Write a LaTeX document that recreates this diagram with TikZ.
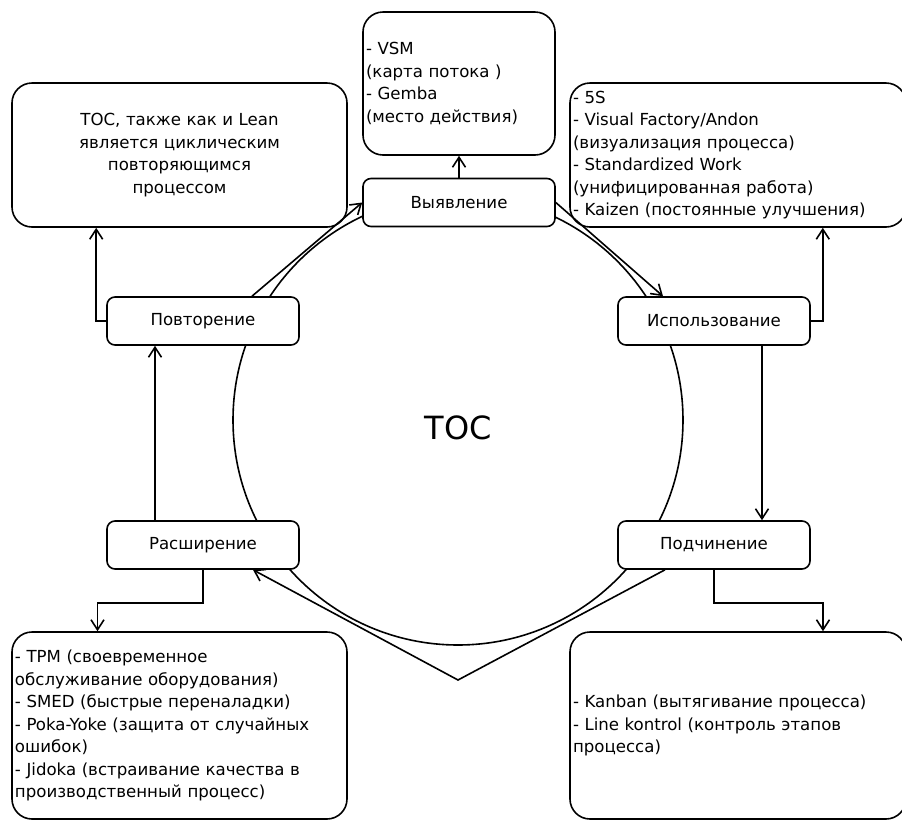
\documentclass[tikz,border=0pt]{standalone}
\usepackage{fontspec}
\setmainfont{DejaVu Sans}
\usetikzlibrary{arrows.meta, positioning, calc}

\begin{document}
\begin{tikzpicture}[x=0.5pt, y=-0.5pt,
    StageBox/.style={draw, fill=white, rounded corners=4pt, line width=0.8pt,
                minimum width=96pt, minimum height=24pt, inner sep=0pt,
                font=\fontsize{8.3pt}{11.25pt}\selectfont},
    NoteBox/.style={draw, fill=white, rounded corners=10pt, line width=0.8pt,
                inner xsep=1.5pt, inner ysep=0pt, align=left,
                font=\fontsize{8.3pt}{11.25pt}\selectfont},
    Arr/.style={line width=0.8pt, -{Straight Barb[length=5pt, width=6.5pt]}},
  ]
\useasboundingbox (0,0) rectangle (902,821);

\node[draw, circle, line width=0.8pt, minimum size=225pt, text height=19.5pt, text depth=0pt,
      font=\fontsize{16pt}{18pt}\selectfont] (toc) at (458,420) {TOC};

\node[StageBox] (ident) at (459,202.5) {Выявление};
\node[StageBox] (rep) at (203,321) {Повторение};
\node[StageBox] (use) at (714,321) {Использование};
\node[StageBox] (ext) at (203,545) {Расширение};
\node[StageBox] (sub) at (714,545) {Подчинение};

\node[NoteBox, minimum width=96pt, minimum height=71.5pt, text width=93pt] (vsmnote) at (459,83.5)
  {- VSM\\(карта потока )\\- Gemba\\(место действия)};
\node[NoteBox, align=center, minimum width=167.5pt, minimum height=72pt, text width=164.5pt] (tocnote) at (179.5,155)
  {TOC, также как и Lean\\является циклическим\\повторяющимся\\процессом};
\node[NoteBox, minimum width=168pt, minimum height=72pt, text width=165pt] (fivesnote) at (738,155)
  {- 5S\\- Visual Factory/Andon\\(визуализация процесса)\\- Standardized Work\\(унифицированная работа)\\- Kaizen (постоянные улучшения)};
\node[NoteBox, minimum width=167.5pt, minimum height=93.5pt, text width=164.5pt] (tpmnote) at (179.5,725.5)
  {- TPM (своевременное\\обслуживание оборудования)\\- SMED (быстрые переналадки)\\- Poka-Yoke (защита от случайных\\ошибок)\\- Jidoka (встраивание качества в\\производственный процесс)};
\node[NoteBox, minimum width=168pt, minimum height=93.5pt, text width=165pt] (kanbannote) at (738,725.5)
  {- Kanban (вытягивание процесса)\\- Line kontrol (контроль этапов\\процесса)};

\draw[Arr] (rep.west) -- ++(-10,0) coordinate (repL) -- (repL |- tocnote.south);
\draw[Arr] (ident.north) -- (vsmnote.south);
\draw[Arr] (use.east) -- ++(12,0) coordinate (useR) -- (useR |- fivesnote.south);
\draw[Arr] ([xshift=24pt]use.south) -- ([xshift=24pt]sub.north);
\draw[Arr] (sub.south) -- ++(0,33) -| ([xshift=42.5pt]kanbannote.north);
\draw[Arr] (ext.south) -- ++(0,33) -| ([xshift=-41pt]tpmnote.north);
\draw[Arr] ([xshift=-24pt]ext.north) -- ([xshift=-24pt]rep.south);
\draw[Arr] ([xshift=24.5pt]rep.north) -- (ident.west);
\draw[Arr] (ident.east) -- ([xshift=-25.5pt]use.north);
\coordinate (dip) at (458,680);
\draw[Arr] ([xshift=-24.5pt]sub.south) -- (dip) -- ([xshift=25pt]ext.south);%
\end{tikzpicture}
\end{document}
